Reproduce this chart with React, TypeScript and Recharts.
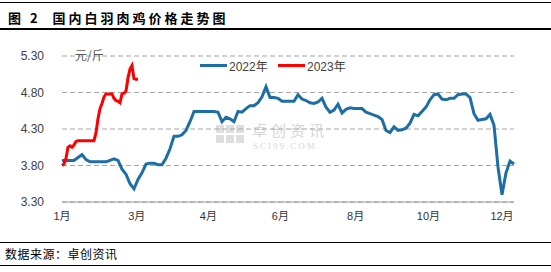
import { CartesianGrid, Line, LineChart, XAxis, YAxis } from 'recharts';

// 白羽肉鸡价格（元/斤），按交易日等距取值
const price2022 = [
  3.87, 3.87, 3.87, 3.87, 3.91, 3.95, 3.88, 3.85, 3.85, 3.85,
  3.85, 3.85, 3.87, 3.89, 3.87, 3.75, 3.68, 3.55, 3.48, 3.61,
  3.7, 3.82, 3.83, 3.83, 3.81, 3.81, 3.9, 4.03, 4.2, 4.2,
  4.22, 4.28, 4.4, 4.54, 4.54, 4.54, 4.54, 4.54, 4.54, 4.53,
  4.4, 4.46, 4.44, 4.4, 4.54, 4.53, 4.58, 4.62, 4.62, 4.66,
  4.74, 4.88, 4.73, 4.73, 4.72, 4.68, 4.68, 4.68, 4.68, 4.77,
  4.71, 4.69, 4.66, 4.65, 4.67, 4.72, 4.6, 4.53, 4.56, 4.64,
  4.52, 4.57, 4.59, 4.58, 4.58, 4.58, 4.53, 4.51, 4.49, 4.47,
  4.43, 4.28, 4.25, 4.33, 4.28, 4.29, 4.31, 4.38, 4.5, 4.48,
  4.54, 4.6, 4.7, 4.77, 4.78, 4.71, 4.7, 4.72, 4.72, 4.77,
  4.78, 4.78, 4.73, 4.51, 4.42, 4.43, 4.44, 4.5, 4.35, 3.78,
  3.4, 3.7, 3.86, 3.82,
];

const price2023 = [
  3.8, 3.82, 3.9, 4.05, 4.07, 4.05, 4.08, 4.13,
  4.14, 4.14, 4.14, 4.14, 4.14, 4.14, 4.14, 4.14, 4.14,
  4.25, 4.44, 4.58, 4.65, 4.74, 4.78, 4.78, 4.78, 4.78,
  4.72, 4.69, 4.68, 4.66, 4.78, 4.79, 4.82, 5.0, 5.12, 5.17,
  4.99, 4.98, 4.98,
];

const monthLabels = ['1月', '3月', '4月', '6月', '8月', '10月', '12月'];
const monthTickDays = [0, 37.4, 73.2, 109.2, 146.8, 183.2, 220];
const priceTicks = [3.3, 3.8, 4.3, 4.8, 5.3];

const series2022 = price2022.map((v, i) => ({ day: i * 2, v }));
const series2023 = price2023.map((v, i) => ({ day: i, v }));

const BLUE = '#1d6fa3';
const RED = '#ff0000';
const sans = '"Liberation Sans", Arial, "Noto Sans CJK SC", sans-serif';
const cjk = '"Noto Sans CJK SC", sans-serif';

function LegendItem({ color, label, left }: { color: string; label: string; left: number }) {
  return (
    <div style={{ position: 'absolute', left, top: 58, display: 'flex', alignItems: 'center', height: 14 }}>
      <div style={{ width: 27, height: 3, background: color }} />
      <span style={{ marginLeft: 2, fontSize: 12, color: '#404040', fontFamily: sans }}>{label}</span>
    </div>
  );
}

export default function App() {
  return (
    <div
      style={{
        position: 'absolute',
        left: 0,
        top: 0,
        width: 551,
        height: 272,
        background: '#fff',
        overflow: 'hidden',
      }}
    >
      <div style={{ position: 'absolute', left: 0, top: 2, width: 551, height: 1, background: '#000' }} />
      <div
        style={{
          position: 'absolute',
          left: 8,
          top: 10,
          fontFamily: cjk,
          fontWeight: 700,
          fontSize: 13,
          lineHeight: '16px',
          letterSpacing: 3,
          color: '#000',
          whiteSpace: 'pre',
        }}
      >
        {'图 2  国内白羽肉鸡价格走势图'}
      </div>
      <div style={{ position: 'absolute', left: 0, top: 28, width: 551, height: 1.5, background: '#000' }} />

      {/* watermark */}
      <div style={{ position: 'absolute', left: 216, top: 125, display: 'grid', gridTemplateColumns: 'repeat(3, 8px)', gap: 2 }}>
        {[0, 1, 2, 3, 4, 5].map((k) => (
          <div key={k} style={{ width: 8, height: 8, background: '#dedede' }} />
        ))}
      </div>
      <div
        style={{
          position: 'absolute',
          left: 252,
          top: 122,
          fontFamily: cjk,
          fontSize: 15,
          lineHeight: '15px',
          letterSpacing: 4,
          color: '#d6d6d6',
        }}
      >
        卓创资讯
      </div>
      <div
        style={{
          position: 'absolute',
          left: 253,
          top: 142,
          fontFamily: '"Liberation Serif", serif',
          fontSize: 9,
          lineHeight: '9px',
          letterSpacing: 2,
          color: '#d6d6d6',
        }}
      >
        SCI99.COM
      </div>

      <LineChart
        width={551}
        height={272}
        margin={{ top: 56, right: 37, bottom: 40, left: 12 }}
        style={{ position: 'absolute', left: 0, top: 0 }}
      >
        <CartesianGrid vertical={false} stroke="#a6a6a6" strokeDasharray="5 3" />
        <XAxis
          dataKey="day"
          type="number"
          domain={[0, 226]}
          ticks={monthTickDays}
          interval={0}
          tickFormatter={(d: number) => monthLabels[monthTickDays.indexOf(d)] ?? ''}
          tickLine={false}
          axisLine={{ stroke: '#999' }}
          tickMargin={4}
          height={30}
          tick={{ fontSize: 11, fill: '#333', fontFamily: sans }}
        />
        <YAxis
          type="number"
          domain={[3.3, 5.3]}
          ticks={priceTicks}
          interval={0}
          tickFormatter={(v: number) => v.toFixed(2)}
          tickLine={false}
          axisLine={false}
          tickMargin={12}
          width={50}
          tick={{ fontSize: 12, fill: '#404040', fontFamily: sans }}
        />
        <Line
          data={series2022}
          dataKey="v"
          type="linear"
          stroke={BLUE}
          strokeWidth={3}
          dot={false}
          isAnimationActive={false}
        />
        <Line
          data={series2023}
          dataKey="v"
          type="linear"
          stroke={RED}
          strokeWidth={3}
          dot={false}
          isAnimationActive={false}
        />
      </LineChart>

      <div style={{ position: 'absolute', left: 75, top: 48, fontFamily: cjk, fontSize: 12, color: '#595959', lineHeight: '14px' }}>
        元/斤
      </div>
      <LegendItem color={BLUE} label="2022年" left={200} />
      <LegendItem color={RED} label="2023年" left={278} />

      <div style={{ position: 'absolute', left: 0, top: 242, width: 551, height: 1, background: '#000' }} />
      <div
        style={{
          position: 'absolute',
          left: 5,
          top: 246,
          fontFamily: cjk,
          fontSize: 12,
          lineHeight: '16px',
          color: '#000',
          letterSpacing: 0.5,
        }}
      >
        数据来源：卓创资讯
      </div>
      <div style={{ position: 'absolute', left: 0, top: 265, width: 551, height: 1, background: '#000' }} />
    </div>
  );
}
